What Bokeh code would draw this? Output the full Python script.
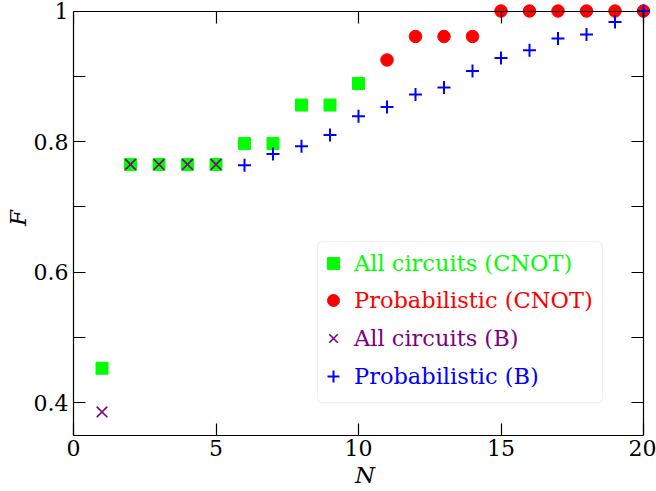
from bokeh.plotting import figure
from bokeh.models import (Range1d, LinearAxis, FixedTicker, Legend, LegendItem,
                          BoxAnnotation, CustomJSTickFormatter)
from bokeh.embed import file_html
from bokeh.resources import INLINE

# ---- data ----
N_all_cnot = [1, 2, 3, 4, 5, 6, 7, 8, 9, 10]
F_all_cnot = [0.453, 0.765, 0.765, 0.765, 0.765, 0.797, 0.797, 0.856, 0.856, 0.889]

N_prob_cnot = [11, 12, 13, 14, 15, 16, 17, 18, 19, 20]
F_prob_cnot = [0.925, 0.961, 0.961, 0.961, 1.0, 1.0, 1.0, 1.0, 1.0, 1.0]

N_all_b = [1, 2, 3, 4, 5]
F_all_b = [0.386, 0.765, 0.765, 0.765, 0.765]

N_prob_b = [6, 7, 8, 9, 10, 11, 12, 13, 14, 15, 16, 17, 18, 19, 20]
F_prob_b = [0.764, 0.781, 0.793, 0.810, 0.839, 0.853, 0.872, 0.883, 0.908,
            0.928, 0.940, 0.958, 0.964, 0.983, 1.0]

labels = ["All circuits (CNOT)", "Probabilistic (CNOT)", "All circuits (B)", "Probabilistic (B)"]
x_ticks = [0, 5, 10, 15, 20]
y_ticks = [0.4, 0.6, 0.8, 1.0]
y_minor = [0.5, 0.7, 0.9]
x_lo, x_hi = 0, 20
y_lo, y_hi = 0.35, 1.0

FONT = "DejaVu Serif"

# pixel scale of the reference: 28.5 px per N unit, 652.5 px per F unit
W, H = 656, 491
LEFT, BOTTOM = 73, 56
x_end = x_hi + (W - LEFT - 570) / 28.5      # let the frame reach the right edge
y_end = y_hi + 10.5 / 652.5                  # and the top edge (no clipping of markers)

p = figure(width=W, height=H, x_range=Range1d(x_lo, x_end), y_range=Range1d(y_lo, y_end),
           output_backend="svg", toolbar_location=None,
           min_border_left=LEFT, min_border_right=0, min_border_top=0, min_border_bottom=BOTTOM)
p.grid.visible = False
p.outline_line_color = None
p.background_fill_color = "white"

r1 = p.scatter(N_all_cnot, F_all_cnot, marker="square", size=12, color="#00ff00")
r2 = p.scatter(N_prob_cnot, F_prob_cnot, marker="circle", size=12.5, color="#ff0000")
r3 = p.scatter(N_all_b, F_all_b, marker="x", size=15, line_color="#800080", line_width=1.6)
r4 = p.scatter(N_prob_b, F_prob_b, marker="cross", size=13, line_color="#0000ff", line_width=2)

ytick_fmt = CustomJSTickFormatter(code="return Math.abs(tick-1) < 1e-9 ? '1' : tick.toFixed(1);")

def style_axis(ax, show_labels, tin=12, tout=0):
    ax.major_tick_in = tin
    ax.major_tick_out = tout
    ax.minor_tick_in = tin
    ax.minor_tick_out = tout
    ax.axis_line_color = "black"
    ax.major_tick_line_color = "black"
    ax.minor_tick_line_color = "black"
    ax.axis_line_width = 1.2
    ax.major_tick_line_width = 1.2
    ax.minor_tick_line_width = 1.2
    ax.major_label_text_font = FONT
    ax.major_label_text_color = "black"
    ax.axis_label_text_font = FONT
    ax.axis_label_text_font_style = "italic"
    ax.axis_label_text_color = "black"
    if show_labels:
        ax.major_label_text_font_size = "22px"
        ax.axis_label_text_font_size = "23px"
    else:
        ax.major_label_text_font_size = "1px"
        ax.major_label_text_alpha = 0
        ax.major_label_standoff = 0

xa = p.xaxis[0]
xa.ticker = FixedTicker(ticks=x_ticks)
xa.bounds = (x_lo, x_hi)
xa.axis_label = "N"
xa.major_label_standoff = 4
xa.axis_label_standoff = 3
style_axis(xa, True)

ya = p.yaxis[0]
ya.ticker = FixedTicker(ticks=y_ticks, minor_ticks=y_minor)
ya.formatter = ytick_fmt
ya.bounds = (y_lo, y_hi)
ya.axis_label = "F"
ya.major_label_standoff = 5
ya.axis_label_standoff = 0
style_axis(ya, True)

top = LinearAxis(ticker=FixedTicker(ticks=x_ticks), fixed_location=y_hi, bounds=(x_lo, x_hi))
style_axis(top, False)
p.add_layout(top, "above")
right = LinearAxis(ticker=FixedTicker(ticks=y_ticks, minor_ticks=y_minor),
                   fixed_location=x_hi, bounds=(y_lo, y_hi))
style_axis(right, False)
p.add_layout(right, "right")

# legend frame
frame = BoxAnnotation(left=8.56, right=18.56, bottom=0.400, top=0.647,
                      fill_color="white", fill_alpha=0.8,
                      line_color="#cccccc", line_width=1.2, border_radius=5)
p.add_layout(frame)

colors = ["#00ff00", "#ff0000", "#800080", "#0000ff"]
renderers = [r1, r2, r3, r4]
centers = [262.7, 300.3, 338.0, 375.7]
for lab, col, rend, cy in zip(labels, colors, renderers, centers):
    lg = Legend(items=[LegendItem(label=lab, renderers=[rend])],
                location=(245, 435 - cy - 15),
                glyph_width=30, glyph_height=30, label_height=30,
                label_standoff=6, padding=0, margin=0,
                border_line_alpha=0, background_fill_alpha=0,
                label_text_font=FONT, label_text_font_size="22.5px",
                label_text_color=col)
    p.add_layout(lg)

open("out.html", "w").write(file_html(p, INLINE))
